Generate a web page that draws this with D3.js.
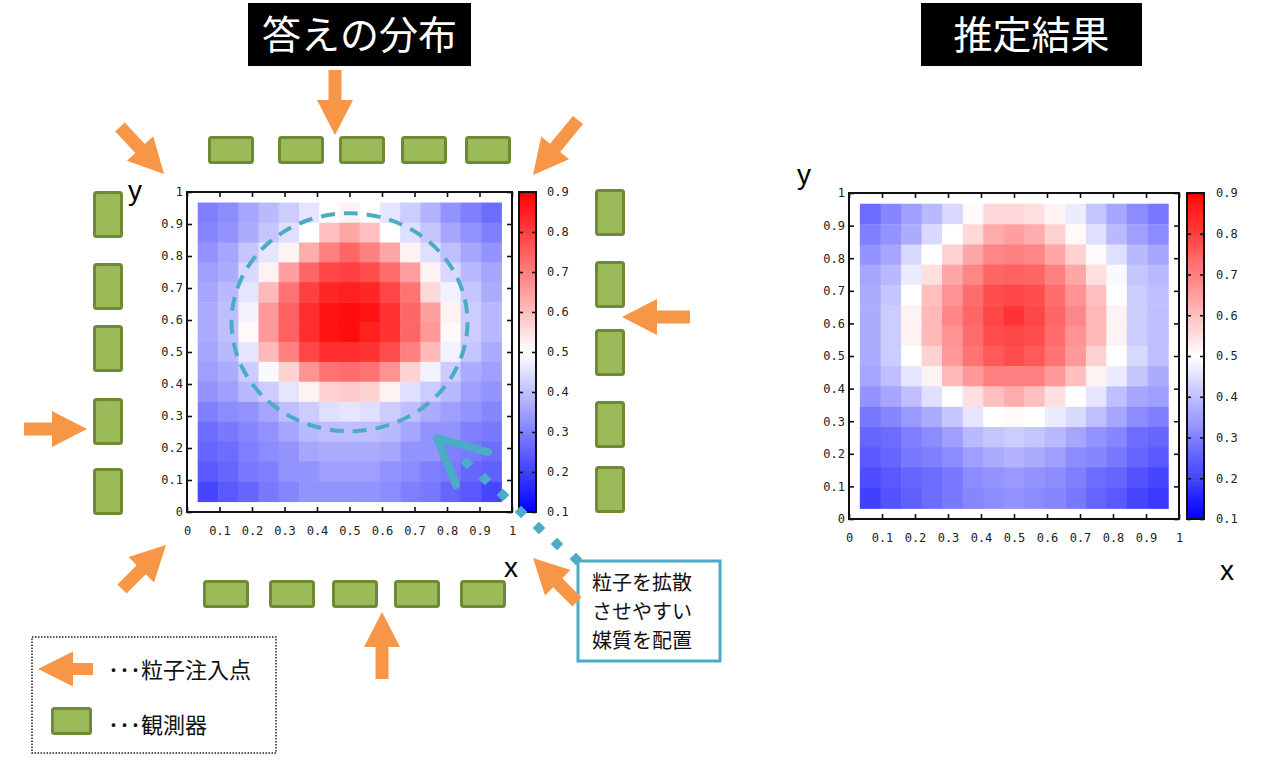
<!DOCTYPE html>
<html><head><meta charset="utf-8">
<script src="https://cdn.jsdelivr.net/npm/d3@7"></script>
<style>body{margin:0;background:#fff}svg{display:block}</style>
</head><body>
<svg id="c" width="1280" height="758"></svg>
<script>
// ---------- data ----------
const axisTicks = [0,0.1,0.2,0.3,0.4,0.5,0.6,0.7,0.8,0.9,1];
const axisTickLabels = ["0","0.1","0.2","0.3","0.4","0.5","0.6","0.7","0.8","0.9","1"];
const cbTicks = [0.1,0.2,0.3,0.4,0.5,0.6,0.7,0.8,0.9];
const cbTickLabels = ["0.1","0.2","0.3","0.4","0.5","0.6","0.7","0.8","0.9"];
const colorStops = [0.1,0.5,0.9];
const colorRange = ["#0000ff","#ffffff","#ff0000"];
// cell centres (x and y) of the 15x15 grid
const cellCenters = [0.064,0.127,0.189,0.251,0.313,0.376,0.438,0.5,0.562,0.624,0.687,0.749,0.811,0.873,0.936];
const cellSize = 0.0622;
// rows listed from top (y=0.936) to bottom (y=0.064)
const answerRows = [
 [0.30,0.32,0.36,0.39,0.42,0.46,0.50,0.52,0.50,0.46,0.42,0.38,0.33,0.30,0.27],
 [0.31,0.33,0.37,0.41,0.45,0.50,0.60,0.64,0.60,0.50,0.45,0.41,0.36,0.33,0.30],
 [0.33,0.36,0.41,0.46,0.52,0.63,0.70,0.74,0.70,0.64,0.52,0.45,0.40,0.36,0.33],
 [0.35,0.37,0.44,0.52,0.65,0.74,0.79,0.80,0.78,0.73,0.65,0.52,0.44,0.39,0.36],
 [0.36,0.39,0.46,0.61,0.72,0.80,0.84,0.85,0.84,0.79,0.72,0.56,0.48,0.41,0.37],
 [0.37,0.40,0.48,0.66,0.75,0.83,0.87,0.88,0.87,0.82,0.74,0.65,0.52,0.42,0.39],
 [0.37,0.40,0.51,0.66,0.75,0.83,0.87,0.88,0.85,0.82,0.74,0.66,0.51,0.42,0.39],
 [0.36,0.39,0.46,0.61,0.70,0.79,0.83,0.83,0.82,0.78,0.70,0.61,0.48,0.41,0.37],
 [0.35,0.37,0.42,0.49,0.57,0.67,0.72,0.73,0.72,0.67,0.57,0.48,0.42,0.37,0.35],
 [0.33,0.35,0.39,0.42,0.46,0.52,0.57,0.58,0.57,0.52,0.45,0.42,0.39,0.35,0.33],
 [0.30,0.32,0.33,0.36,0.40,0.42,0.45,0.46,0.45,0.42,0.40,0.37,0.35,0.33,0.31],
 [0.27,0.29,0.31,0.33,0.36,0.39,0.40,0.40,0.40,0.39,0.36,0.33,0.33,0.30,0.29],
 [0.26,0.27,0.30,0.32,0.33,0.36,0.37,0.37,0.37,0.36,0.33,0.33,0.30,0.29,0.27],
 [0.24,0.26,0.29,0.30,0.33,0.33,0.35,0.35,0.35,0.33,0.32,0.30,0.29,0.26,0.25],
 [0.21,0.24,0.26,0.29,0.31,0.33,0.33,0.33,0.33,0.32,0.30,0.29,0.26,0.24,0.21]
];
const estimateRows = [
 [0.27,0.31,0.35,0.39,0.44,0.51,0.56,0.56,0.55,0.52,0.47,0.41,0.36,0.32,0.29],
 [0.30,0.33,0.37,0.44,0.50,0.56,0.63,0.65,0.63,0.57,0.51,0.45,0.39,0.35,0.32],
 [0.33,0.36,0.44,0.50,0.57,0.64,0.69,0.70,0.69,0.64,0.57,0.51,0.45,0.39,0.36],
 [0.36,0.39,0.47,0.55,0.64,0.69,0.74,0.75,0.74,0.70,0.64,0.55,0.49,0.41,0.39],
 [0.37,0.41,0.50,0.60,0.67,0.73,0.78,0.79,0.78,0.73,0.67,0.60,0.50,0.42,0.40],
 [0.37,0.42,0.52,0.61,0.69,0.74,0.79,0.82,0.79,0.74,0.69,0.61,0.52,0.42,0.40],
 [0.37,0.42,0.52,0.61,0.67,0.73,0.78,0.79,0.78,0.73,0.67,0.61,0.52,0.42,0.40],
 [0.37,0.42,0.50,0.57,0.66,0.72,0.76,0.78,0.76,0.72,0.66,0.57,0.50,0.44,0.40],
 [0.36,0.40,0.46,0.52,0.61,0.66,0.70,0.70,0.70,0.66,0.60,0.52,0.47,0.41,0.37],
 [0.33,0.36,0.40,0.45,0.50,0.55,0.60,0.63,0.60,0.55,0.50,0.46,0.40,0.36,0.35],
 [0.29,0.31,0.34,0.37,0.41,0.46,0.50,0.51,0.50,0.47,0.44,0.40,0.36,0.32,0.30],
 [0.26,0.27,0.30,0.32,0.35,0.39,0.41,0.42,0.41,0.39,0.36,0.33,0.31,0.27,0.26],
 [0.24,0.26,0.29,0.30,0.32,0.35,0.37,0.38,0.37,0.35,0.32,0.31,0.29,0.26,0.24],
 [0.22,0.24,0.26,0.27,0.29,0.32,0.33,0.34,0.33,0.32,0.30,0.27,0.26,0.23,0.21],
 [0.20,0.23,0.25,0.27,0.29,0.31,0.32,0.33,0.32,0.31,0.29,0.26,0.24,0.21,0.19]
];
const titles = ["答えの分布","推定結果"];
const calloutLines = ["粒子を拡散","させやすい","媒質を配置"];
const legendLabels = ["粒子注入点","観測器"];

// ---------- styles ----------
const ORANGE = "#f79646", GREEN = "#9bbb59", GREEN_D = "#6e8a36", TEAL = "#4bacc6";
const JP = "'Noto Sans CJK JP','Noto Sans CJK SC',sans-serif";
const MONO = "'DejaVu Sans Mono',monospace";
const svg = d3.select("#c");
const color = d3.scaleLinear().domain(colorStops).range(colorRange).clamp(true);

// ---------- heatmap panels ----------
function panel(o){
  const x = d3.scaleLinear().domain([0,1]).range([o.x0,o.x1]);
  const y = d3.scaleLinear().domain([0,1]).range([o.y0,o.y1]);
  const g = svg.append("g");
  const cells = [];
  o.rows.forEach((row,i)=>row.forEach((v,j)=>cells.push({cx:cellCenters[j], cy:cellCenters[14-i], v})));
  g.selectAll("rect.cell").data(cells).join("rect")
    .attr("x",d=>x(d.cx-cellSize/2)).attr("y",d=>y(d.cy+cellSize/2))
    .attr("width",x(cellSize)-x(0)+0.6).attr("height",y(0)-y(cellSize)+0.6)
    .attr("fill",d=>color(d.v));
  const fmt = d=>axisTickLabels[axisTicks.indexOf(d)];
  const ax = [
    [d3.axisBottom(x).tickValues(axisTicks).tickFormat(fmt).tickSizeInner(-5).tickSizeOuter(0).tickPadding(14), `translate(0,${o.y0})`],
    [d3.axisLeft(y).tickValues(axisTicks).tickFormat(fmt).tickSizeInner(-5).tickSizeOuter(0).tickPadding(4), `translate(${o.x0},0)`],
    [d3.axisTop(x).tickValues(axisTicks).tickFormat("").tickSizeInner(-5).tickSizeOuter(0), `translate(0,${o.y1})`],
    [d3.axisRight(y).tickValues(axisTicks).tickFormat("").tickSizeInner(-5).tickSizeOuter(0), `translate(${o.x1},0)`]
  ];
  ax.forEach(([a,t])=>{
    const ag = g.append("g").attr("transform",t).call(a);
    ag.select(".domain").remove();
    ag.selectAll("line").attr("stroke","#111").attr("stroke-width",1.6);
    ag.selectAll("text").attr("font-family",MONO).attr("font-size",12).attr("fill","#222");
  });
  g.append("rect").attr("x",o.x0).attr("y",o.y1).attr("width",o.x1-o.x0).attr("height",o.y0-o.y1)
    .attr("fill","none").attr("stroke","#111").attr("stroke-width",2);
  // colour bar
  const cy = d3.scaleLinear().domain([0.1,0.9]).range([o.y0,o.y1]);
  const steps = d3.range(0.1,0.9,0.005);
  g.selectAll("rect.cb").data(steps).join("rect")
    .attr("x",o.cbx).attr("width",o.cbw).attr("y",d=>cy(d+0.005)).attr("height",cy(0.1)-cy(0.105)+0.5)
    .attr("fill",d=>color(d+0.0025));
  const cbf = d=>cbTickLabels[cbTicks.indexOf(d)];
  const cl = g.append("g").attr("transform",`translate(${o.cbx},0)`)
    .call(d3.axisLeft(cy).tickValues(cbTicks).tickFormat("").tickSizeInner(-4).tickSizeOuter(0));
  const cr = g.append("g").attr("transform",`translate(${o.cbx+o.cbw},0)`)
    .call(d3.axisRight(cy).tickValues(cbTicks).tickFormat(cbf).tickSizeInner(-4).tickSizeOuter(0).tickPadding(o.cbpad));
  [cl,cr].forEach(a=>{a.select(".domain").remove();a.selectAll("line").attr("stroke","#111").attr("stroke-width",1.6);
    a.selectAll("text").attr("font-family",MONO).attr("font-size",12).attr("fill","#222");});
  g.append("rect").attr("x",o.cbx).attr("y",o.y1).attr("width",o.cbw).attr("height",o.y0-o.y1)
    .attr("fill","none").attr("stroke","#111").attr("stroke-width",2);
  // axis letters
  g.append("text").attr("x",o.xlab[0]).attr("y",o.xlab[1]).attr("text-anchor","middle")
    .attr("font-family","'Liberation Sans',Arial,sans-serif").attr("font-size",28).text("x");
  g.append("text").attr("x",o.ylab[0]).attr("y",o.ylab[1]).attr("text-anchor","middle")
    .attr("font-family","'Liberation Sans',Arial,sans-serif").attr("font-size",28).text("y");
  return {x,y};
}
const P1 = panel({rows:answerRows,x0:187,x1:512,y0:512,y1:192,cbx:519,cbw:17,cbpad:11,xlab:[511,577],ylab:[135,200]});
panel({rows:estimateRows,x0:849,x1:1179,y0:519,y1:193,cbx:1187,cbw:17,cbpad:12,xlab:[1227,580],ylab:[804,184]});

// ---------- titles ----------
[[248,3,223,63,titles[0]],[921,3,221,63,titles[1]]].forEach(([x,y,w,h,t])=>{
  svg.append("rect").attr("x",x).attr("y",y).attr("width",w).attr("height",h).attr("fill","#000");
  svg.append("text").attr("x",x+w/2).attr("y",y+h/2+14).attr("text-anchor","middle")
    .attr("font-family",JP).attr("font-size",39).attr("fill","#fff").text(t);
});

// ---------- annotations on left panel ----------
svg.append("ellipse").attr("cx",P1.x(0.5)).attr("cy",P1.y(0.593)).attr("rx",118).attr("ry",109)
  .attr("fill","none").attr("stroke",TEAL).attr("stroke-width",4).attr("stroke-dasharray","14 9");
svg.append("path").attr("d","M488,452 L437,438 L456,485").attr("fill","none").attr("stroke",TEAL)
  .attr("stroke-width",8).attr("stroke-linecap","round").attr("stroke-linejoin","round");
const diamonds = [[467,463],[485,479],[503,495],[521,512],[539,528],[557,544],[576,559]];
svg.selectAll("rect.dm").data(diamonds).join("rect")
  .attr("x",-4.5).attr("y",-4.5).attr("width",9).attr("height",9).attr("fill",TEAL)
  .attr("transform",d=>`translate(${d[0]},${d[1]}) rotate(45)`);
svg.append("rect").attr("x",578).attr("y",561).attr("width",142).attr("height",100)
  .attr("fill","#fff").attr("stroke",TEAL).attr("stroke-width",3);
svg.append("text").attr("font-family",JP).attr("font-size",20).attr("fill","#111")
  .selectAll("tspan").data(calloutLines).join("tspan").attr("x",592).attr("y",(d,i)=>590+i*29).text(d=>d);

// ---------- observers ----------
const obsH = [[208,136],[278,136],[339,136],[401,136],[465,136],[203,580],[269,580],[332,580],[394,580],[460,580]];
const obsV = [[93,191],[93,263],[93,325],[93,398],[93,468],[595,189],[595,261],[595,329],[595,401],[595,466]];
function obs(x,y,w,h){
  svg.append("rect").attr("x",x+1.5).attr("y",y+1.5).attr("width",w-3).attr("height",h-3).attr("rx",2)
    .attr("fill",GREEN).attr("stroke",GREEN_D).attr("stroke-width",3);
}
obsH.forEach(d=>obs(d[0],d[1],46,28));
obsV.forEach(d=>obs(d[0],d[1],30,47));

// ---------- injection arrows ----------
function arrow(tail,tip,sw=13,hw=36,hl=35){
  const dx=tip[0]-tail[0], dy=tip[1]-tail[1], L=Math.hypot(dx,dy), a=Math.atan2(dy,dx)*180/Math.PI;
  const p=[[0,-sw/2],[L-hl,-sw/2],[L-hl,-hw/2],[L,0],[L-hl,hw/2],[L-hl,sw/2],[0,sw/2]];
  svg.append("path").attr("d","M"+p.map(q=>q.join(",")).join("L")+"Z").attr("fill",ORANGE)
    .attr("transform",`translate(${tail[0]},${tail[1]}) rotate(${a})`);
}
const arrows = [
  [[335,70],[335,135]], [[120,127],[164,174]], [[578,120],[533,175]],
  [[690,317],[622,317]], [[24,429],[87,429]], [[122,589],[166,545]],
  [[382,679],[382,612]], [[577,602],[533,558]]
];
arrows.forEach(a=>arrow(a[0],a[1]));

// ---------- legend ----------
svg.append("rect").attr("x",32).attr("y",637).attr("width",244).attr("height",116)
  .attr("fill","none").attr("stroke","#222").attr("stroke-width",1.5).attr("stroke-dasharray","1.5 1.5");
arrow([93,669],[38,669],12,35,35);
obs(51,707,41,28);
legendLabels.forEach((t,i)=>{
  const tx = svg.append("text").attr("x",108).attr("y",[678,733][i]).attr("font-family",JP).attr("font-size",22).attr("fill","#111");
  tx.append("tspan").text("･･･");
  tx.append("tspan").text(t);
});
</script>
</body></html>
